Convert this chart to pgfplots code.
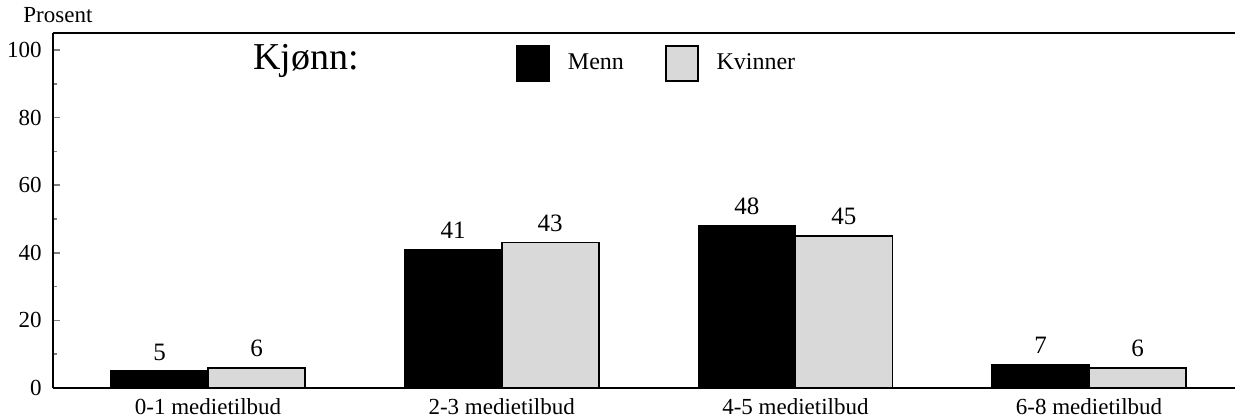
\documentclass[border=0pt]{standalone}
\usepackage{fontspec}
\setmainfont{Liberation Serif}
\usepackage{pgfplots}
\pgfplotsset{compat=1.18}
\definecolor{kvinner}{RGB}{217,217,217}

\begin{document}
\begin{tikzpicture}
\begin{axis}[
  name=ax,
  at={(0,0)}, anchor=south west,
  scale only axis, width=591pt, height=177.5pt,
  ybar=0pt, bar width=48.5pt,
  xmin=-0.528, xmax=3.497, ymin=0, ymax=105,
  axis x line*=box, axis y line*=left,
  axis line style={line width=1pt,-},
  xtick={0,1,2,3},
  xticklabels={0-1 medietilbud,2-3 medietilbud,4-5 medietilbud,6-8 medietilbud},
  xtick style={draw=none},
  xticklabel style={anchor=base, yshift=-13pt, font=\fontsize{11.5}{12}\selectfont},
  ytick={0,20,...,100}, minor y tick num=1,
  tick align=inside, major tick length=3.5pt, minor tick length=2pt,
  ytick style={line width=0.8pt},
  yticklabel style={anchor=east, inner sep=0pt, xshift=-5.5pt, font=\fontsize{11.5}{12}\selectfont},
  /pgf/number format/assume math mode=true,
  nodes near coords,
  every node near coord/.append style={inner sep=0pt, yshift=5pt, font=\fontsize{12.5}{14}\selectfont},
  legend style={at={(axis description cs:0.3917,0.9662)}, anchor=north west,
    draw=none, fill=none, inner sep=0pt, legend columns=2,
    font=\fontsize{12}{14}\selectfont,
    nodes={inner sep=0pt},
    /tikz/every odd column/.append style={column sep=9pt},
    /tikz/every even column/.append style={column sep=20.5pt}},
]
% Menn
\addplot[fill=black, draw=black, line width=0.8pt,
  legend image code/.code={\draw[fill=black, draw=black, line width=0.8pt] (0pt,-9pt) rectangle (16pt,8.5pt);}]
  coordinates {(0,5) (1,41) (2,48) (3,7)};
% Kvinner
\addplot[fill=kvinner, draw=black, line width=0.8pt,
  legend image code/.code={\draw[fill=kvinner, draw=black, line width=0.8pt] (0pt,-9pt) rectangle (16pt,8.5pt);}]
  coordinates {(0,6) (1,43) (2,45) (3,6)};
\legend{Menn, Kvinner}
\end{axis}
\node[anchor=base west, inner sep=0pt, font=\fontsize{19}{21}\selectfont]
  at ([xshift=100pt, yshift=-18.5pt]ax.north west) {Kjønn:};
\node[anchor=base west, inner sep=0pt, font=\fontsize{11.5}{13}\selectfont]
  at ([xshift=-15pt, yshift=5pt]ax.north west) {Prosent};
\pgfresetboundingbox
\path[use as bounding box] (-26.5pt,-14.5pt) rectangle (591pt,194pt);
\end{tikzpicture}
\end{document}
